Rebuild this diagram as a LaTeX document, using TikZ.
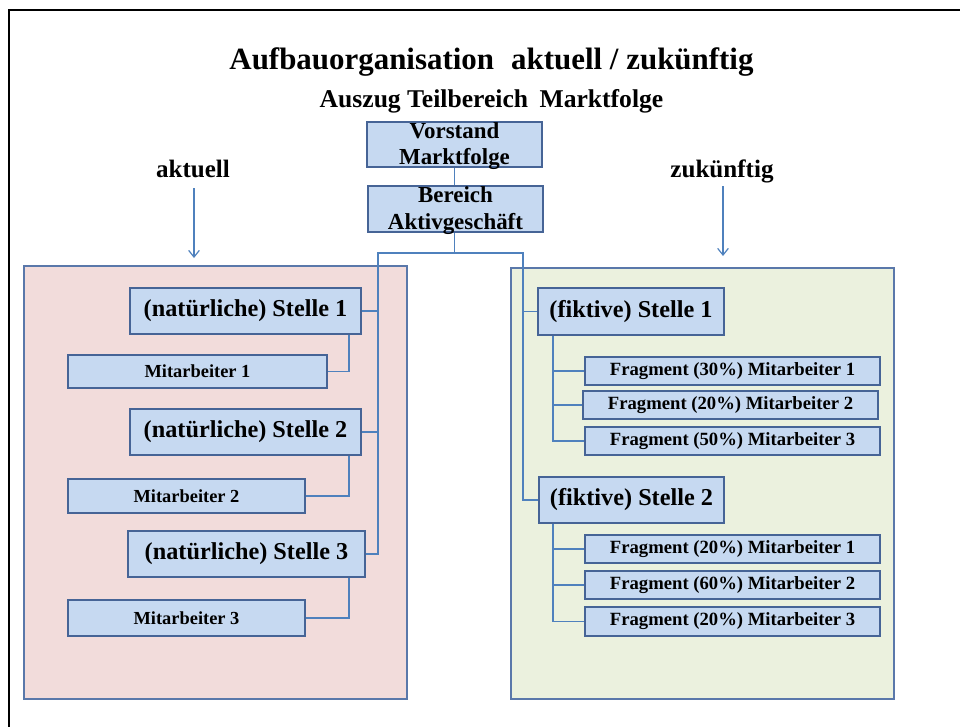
\documentclass[tikz,border=0pt]{standalone}
\usepackage{fontspec}
\setmainfont{Liberation Serif}
\usetikzlibrary{arrows.meta}
\definecolor{boxfill}{RGB}{198,217,241}
\definecolor{boxdraw}{RGB}{70,100,150}
\definecolor{connc}{RGB}{79,129,189}
\definecolor{pinkfill}{RGB}{242,220,219}
\definecolor{greenfill}{RGB}{235,241,222}
\definecolor{paneldraw}{RGB}{90,120,170}
\begin{document}
\begin{tikzpicture}[x=0.75pt,y=-0.75pt,
  box/.style={draw=boxdraw, fill=boxfill, line width=1.2pt, inner sep=0pt, align=center},
  sz/.style 2 args={minimum width=#1*0.75pt, minimum height=#2*0.75pt},
  conn/.style={draw=connc, line width=1.1pt},
  panel/.style={draw=paneldraw, line width=1.2pt},
  frame/.style={draw=black, line width=2pt},
  title/.style={inner sep=0pt, anchor=base, font=\bfseries\fontsize{23.2}{26}\selectfont},
  subtitle/.style={inner sep=0pt, anchor=base, font=\bfseries\fontsize{19.2}{22}\selectfont},
  side/.style={inner sep=0pt, anchor=base, font=\bfseries\fontsize{18.8}{22}\selectfont},
  toptext/.style={inner sep=0pt, align=center, font=\bfseries\fontsize{17.2}{20}\selectfont},
  stelle/.style={box, font=\bfseries\fontsize{18.2}{20}\selectfont},
  mitarb/.style={box, font=\bfseries\fontsize{13.8}{16}\selectfont},
  frag/.style={box, font=\bfseries\fontsize{14}{16}\selectfont},
  arr/.style={draw=connc, line width=0.9pt, -{Straight Barb[length=5pt,width=8pt]}}
]
\useasboundingbox (0,0) rectangle (960,726);
\clip (0,0) rectangle (960,726);
\draw[frame] (9,740) -- (9,10) -- (975,10);

% panels
\draw[panel, fill=pinkfill] (24,266) rectangle (407,699);
\draw[panel, fill=greenfill] (511,268) rectangle (894,699);

% titles
\node[title] (t1) at (491.5,69) {Aufbauorganisation\hspace{0.3em} aktuell / zukünftig};
\node[subtitle] (t2) at (491.5,107) {Auszug Teilbereich\hspace{0.2em} Marktfolge};

% top boxes
\node[box, sz={175}{45}] (vor) at (454.5,144.5) {};
\node[toptext] (vortext) at (454.5,146) {Vorstand\\Marktfolge};
\node[box, sz={175}{46}] (bae) at (455.5,209) {};
\node[toptext] (baetext) at (455.5,210.5) {Bereich\\Aktivgeschäft};

% side labels
\node[side] (akt) at (193,177) {aktuell};
\node[side] (zuk) at (722,177) {zukünftig};
\coordinate (akttip) at (194,258);
\coordinate (zuktip) at (723,256);
\draw[arr] (akttip |- 0,188) -- (akttip);
\draw[arr] (zuktip |- 0,186) -- (zuktip);

% left column
\node[stelle, sz={231}{46}] (st1) at (245.5,311) {(natürliche) Stelle 1};
\node[mitarb, sz={259}{33}] (ma1) at (197.5,371.5) {Mitarbeiter 1};
\node[stelle, sz={231}{46}] (st2) at (245.5,432) {(natürliche) Stelle 2};
\node[mitarb, sz={237}{34}] (ma2) at (186.5,496) {Mitarbeiter 2};
\node[stelle, sz={237}{46}] (st3) at (246.5,554) {(natürliche) Stelle 3};
\node[mitarb, sz={237}{36}] (ma3) at (186.5,618) {Mitarbeiter 3};

% right column
\node[stelle, sz={186}{47}] (fs1) at (631,311.5) {(fiktive) Stelle 1};
\node[frag, sz={295}{28}] (f11) at (732.5,371) {Fragment (30\%) Mitarbeiter 1};
\node[frag, sz={295}{28}] (f12) at (730.5,405) {Fragment (20\%) Mitarbeiter 2};
\node[frag, sz={295}{28}] (f13) at (732.5,441) {Fragment (50\%) Mitarbeiter 3};
\node[stelle, sz={185}{46}] (fs2) at (631.5,500) {(fiktive) Stelle 2};
\node[frag, sz={295}{28}] (f21) at (732.5,549) {Fragment (20\%) Mitarbeiter 1};
\node[frag, sz={295}{28}] (f22) at (732.5,585) {Fragment (60\%) Mitarbeiter 2};
\node[frag, sz={295}{29}] (f23) at (732.5,621.5) {Fragment (20\%) Mitarbeiter 3};

% connectors
\coordinate (ls) at (378,253);
\coordinate (rs) at (523,253);
\draw[conn] (vor.south -| 454.5,0) -- (bae.north -| 454.5,0);
\draw[conn] (bae.south -| 454.5,0) |- (ls) -- (ls |- st3.east) -- (st3.east);
\draw[conn] (bae.south -| 454.5,0) |- (rs) -- (rs |- fs2.west) -- (fs2.west);
\draw[conn] (st1.east) -- (st1.east -| ls);
\draw[conn] (st2.east) -- (st2.east -| ls);
\draw[conn] (rs |- fs1.west) -- (fs1.west);

\draw[conn] (st1.south -| 349,0) |- (ma1.east);
\draw[conn] (st2.south -| 349,0) |- (ma2.east);
\draw[conn] (st3.south -| 349,0) |- (ma3.east);

\draw[conn] (fs1.south -| 553,0) |- (f13.west);
\draw[conn] (f11.west -| 553,0) -- (f11.west);
\draw[conn] (f12.west -| 553,0) -- (f12.west);
\draw[conn] (fs2.south -| 553,0) |- (f23.west);
\draw[conn] (f21.west -| 553,0) -- (f21.west);
\draw[conn] (f22.west -| 553,0) -- (f22.west);
\end{tikzpicture}
\end{document}
